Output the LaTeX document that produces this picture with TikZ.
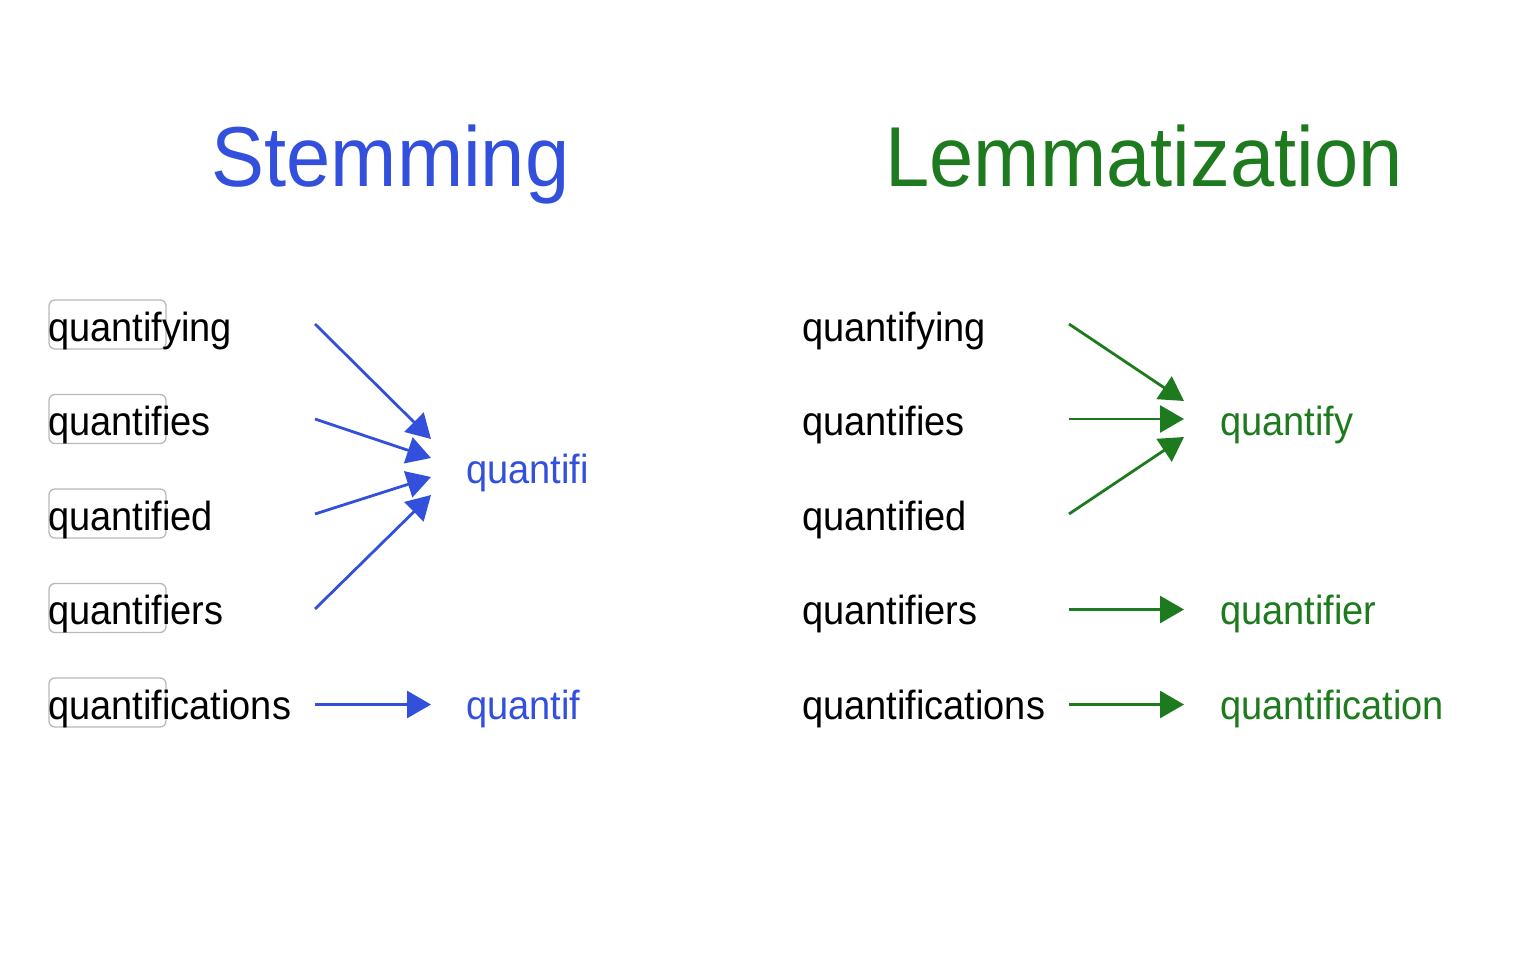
\documentclass[tikz,border=0pt]{standalone}
\usepackage{fontspec}
\setmainfont{Liberation Sans}
\usetikzlibrary{arrows.meta}
\definecolor{stemblue}{RGB}{50,80,220}
\definecolor{lemgreen}{RGB}{30,122,30}
\definecolor{boxgray}{RGB}{185,185,185}
\newcommand{\tallt}[1]{\scalebox{1}[1.07]{#1}}
\begin{document}
\begin{tikzpicture}[x=1pt,y=-1pt,
  word/.style={font=\fontsize{38}{40}\selectfont, inner sep=0pt, anchor=base west},
  heading/.style={font=\fontsize{79.5}{85}\selectfont, inner sep=0pt, anchor=base},
  wordbox/.style={draw=boxgray, line width=1.3pt, rounded corners=6pt, minimum width=117pt, minimum height=49pt, inner sep=0pt},
  conn/.style={line width=2.8pt, -{Triangle[length=24pt,width=27pt]}},
  bconn/.style={conn, draw=stemblue, fill=stemblue},
  gconn/.style={conn, draw=lemgreen, fill=lemgreen}]
\useasboundingbox (0,0) rectangle (1536,960);
% titles
\node[heading, text=stemblue] (stem) at (390.5,187) {\tallt{Stemming}};
\node[heading, text=lemgreen] (lemma) at (1144,187) {\tallt{Lemmatization}};
% left boxes
\node[wordbox] (b1) at (107.5,324.5) {};
\node[wordbox] (b2) at (107.5,419) {};
\node[wordbox] (b3) at (107.5,513.5) {};
\node[wordbox] (b4) at (107.5,608) {};
\node[wordbox] (b5) at (107.5,702.5) {};
% left words
\node[word] (w1) at (48,341) {\tallt{quantifying}};
\node[word] (w2) at (48,435.5) {\tallt{quantifies}};
\node[word] (w3) at (48,530) {\tallt{quantified}};
\node[word] (w4) at (48,624.5) {\tallt{quantifiers}};
\node[word] (w5) at (48,719) {\tallt{quantifications}};
% stems
\node[word, text=stemblue] (st1) at (466,483) {\tallt{quantifi}};
\node[word, text=stemblue] (st2) at (466,719) {\tallt{quantif}};
% right words
\node[word] (r1) at (802,341) {\tallt{quantifying}};
\node[word] (r2) at (802,435.5) {\tallt{quantifies}};
\node[word] (r3) at (802,530) {\tallt{quantified}};
\node[word] (r4) at (802,624.5) {\tallt{quantifiers}};
\node[word] (r5) at (802,719) {\tallt{quantifications}};
% lemmas
\node[word, text=lemgreen] (l1) at (1220,435.5) {\tallt{quantify}};
\node[word, text=lemgreen] (l2) at (1220,624.5) {\tallt{quantifier}};
\node[word, text=lemgreen] (l3) at (1220,719) {\tallt{quantification}};
% connector ends
\coordinate (sa1) at (315,324);
\coordinate (sa2) at (315,419);
\coordinate (sa3) at (315,514);
\coordinate (sa4) at (315,609);
\coordinate (sa5) at (315,704.5);
\coordinate (ta1) at (431,439);
\coordinate (ta2) at (431,458);
\coordinate (ta3) at (431,477);
\coordinate (ta4) at (431,495);
\coordinate (ta5) at (431,704.5);
\coordinate (sg1) at (1069,324);
\coordinate (sg2) at (1069,419);
\coordinate (sg3) at (1069,514);
\coordinate (sg4) at (1069,609.5);
\coordinate (sg5) at (1069,704.5);
\coordinate (tg1) at (1184,401);
\coordinate (tg2) at (1184,419);
\coordinate (tg3) at (1184,437);
\coordinate (tg4) at (1184,609.5);
\coordinate (tg5) at (1184,704.5);
% connectors
\draw[bconn] (sa1) -- (ta1);
\draw[bconn] (sa2) -- (ta2);
\draw[bconn] (sa3) -- (ta3);
\draw[bconn] (sa4) -- (ta4);
\draw[bconn] (sa5) -- (ta5);
\draw[gconn] (sg1) -- (tg1);
\draw[gconn] (sg2) -- (tg2);
\draw[gconn] (sg3) -- (tg3);
\draw[gconn] (sg4) -- (tg4);
\draw[gconn] (sg5) -- (tg5);
\end{tikzpicture}
\end{document}
